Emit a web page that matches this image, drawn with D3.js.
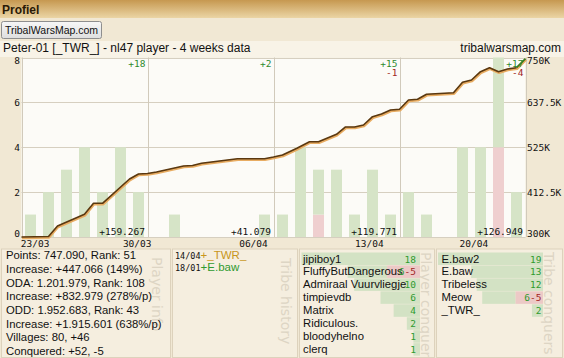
<!DOCTYPE html>
<html><head><meta charset="utf-8">
<script src="https://cdn.jsdelivr.net/npm/d3@7"></script>
<style>
html,body{margin:0;padding:0;background:#f1e8d4;}
svg{display:block;}
</style></head>
<body>
<script>
// ---------- data ----------
const conquerGains  = [1,2,3,4,2,4,2, 0,1,0,0,0,0,1, 1,4,2,3,1,3,1, 2,1,0,4,4,4,2];
const conquerLosses = [0,0,0,0,0,0,0, 0,0,0,0,0,0,0, 0,0,1,0,0,0,0, 0,0,0,0,0,4,0];
const lineDays   = [0,1.5,2,3.5,4,4.5,6,6.5,7,7.5,8,9,9.5,10,11,12,13.5,14,14.5,15.3,16,16.5,17.5,18,18.5,19,19.5,20,20.5,21,21.5,22,22.5,24,24.5,25,25.5,26,26.5,27,27.5,28];
const linePoints = [300024,301300,327600,356900,384500,384500,445400,458000,459291,463000,468000,478000,479300,484800,490500,496300,496300,500370,505600,522400,538900,538900,557500,575800,575800,580800,601600,608400,618500,620141,643500,645200,657700,661800,687800,693600,714400,724400,714400,721200,724400,747090];
const weekGain   = [18,2,15,17];
const weekLoss   = [0,0,1,4];
const weekPoints = [159267,41079,119771,126949];
const dateLabels = ["23/03","30/03","06/04","13/04","20/04"];
const dateLabelDays = [0.73,6.4,12.86,19.3,25.1];
const leftTicks  = [0,2,4,6,8];
const rightTicks = [300000,412500,525000,637500,750000];
const playerInfo = ["Points: 747.090, Rank: 51","Increase: +447.066 (149%)","ODA: 1.201.979, Rank: 108","Increase: +832.979 (278%/p)","ODD: 1.952.683, Rank: 43","Increase: +1.915.601 (638%/p)","Villages: 80, +46","Conquered: +52, -5"];
const historyDates = ["14/04","18/01"];
const historyTribes = ["+_TWR_","+E.baw"];
const historyKinds = ["join","new"];
const playerNames = ["jipiboy1","FluffyButDangerous","Admiraal Vuurvliegje","timpievdb","Matrix","Ridiculous.","bloodyhelno","clerq"];
const playerGains = [18,6,10,6,4,2,1,1];
const playerLosses = [0,5,0,0,0,0,0,0];
const tribeNames = ["E.baw2","E.baw","Tribeless","Meow","_TWR_"];
const tribeGains = [19,13,12,6,2];
const tribeLosses = [0,0,0,5,0];

// ---------- drawing ----------
const W = 564, H = 358;
const svg = d3.select("body").append("svg").attr("width",W).attr("height",H);
const sans = "'Liberation Sans', Arial, sans-serif";
const mono = "'DejaVu Sans Mono', monospace";
const defs = svg.append("defs");
const hg = defs.append("linearGradient").attr("id","hdr").attr("x1",0).attr("y1",0).attr("x2",0).attr("y2",1);
hg.append("stop").attr("offset","0%").attr("stop-color","#c69850");
hg.append("stop").attr("offset","100%").attr("stop-color","#ebd5a5");
const bg = defs.append("linearGradient").attr("id","btn").attr("x1",0).attr("y1",0).attr("x2",0).attr("y2",1);
bg.append("stop").attr("offset","0%").attr("stop-color","#f7f7f7");
bg.append("stop").attr("offset","100%").attr("stop-color","#dedede");

svg.append("rect").attr("width",W).attr("height",H).attr("fill","#f1e8d4");
svg.append("rect").attr("width",W).attr("height",18).attr("fill","url(#hdr)");
svg.append("text").attr("x",2).attr("y",13.5).attr("font-family",sans).attr("font-weight","bold")
  .attr("font-size",12).attr("fill","#2a1a06").text("Profiel");

svg.append("rect").attr("x",1.5).attr("y",21.5).attr("width",100).attr("height",17).attr("rx",2)
  .attr("fill","url(#btn)").attr("stroke","#8e8e8e");
svg.append("text").attr("x",51.5).attr("y",34).attr("text-anchor","middle").attr("font-family",sans)
  .attr("font-size",10.5).attr("fill","#111").text("TribalWarsMap.com");

svg.append("rect").attr("x",0).attr("y",41).attr("width",W).attr("height",16).attr("fill","#f8f3e7");
svg.append("text").attr("x",3).attr("y",52).attr("font-family",sans).attr("font-size",12).attr("fill","#111")
  .text("Peter-01 [_TWR_] - nl47 player - 4 weeks data");
svg.append("text").attr("x",561).attr("y",52).attr("text-anchor","end").attr("font-family",sans).attr("font-size",12).attr("fill","#111")
  .text("tribalwarsmap.com");

// scales
const x0 = 21.5, x1 = 525.5, yTop = 57.5, yBot = 237;
const x = d3.scaleLinear().domain([0,28]).range([x0,x1]);
const yC = d3.scaleLinear().domain([0,8]).range([yBot,yTop]);
const yP = d3.scaleLinear().domain([300000,750000]).range([yBot,yTop]);

const plot = svg.append("g");
plot.append("rect").attr("x",x0).attr("y",yTop).attr("width",x1-x0).attr("height",yBot-yTop).attr("fill","#fcfbf7");

// grid
plot.selectAll("line.h").data(leftTicks).join("line").attr("class","h")
  .attr("x1",x0).attr("x2",x1).attr("y1",d=>Math.round(yC(d))+0.5).attr("y2",d=>Math.round(yC(d))+0.5)
  .attr("stroke","#d6cfc0");
plot.selectAll("line.v").data([0,7,14,21,28]).join("line").attr("class","v")
  .attr("x1",d=>Math.round(x(d))+0.5).attr("x2",d=>Math.round(x(d))+0.5).attr("y1",yTop).attr("y2",yBot)
  .attr("stroke","#d1cabb");

// bars
const dayIdx = d3.range(conquerGains.length);
const bw = 11;
plot.selectAll("rect.loss").data(dayIdx.filter(i=>conquerLosses[i]>0)).join("rect").attr("class","loss")
  .attr("x",i=>x(i)+(x(1)-x(0)-bw)/2).attr("width",bw)
  .attr("y",i=>yC(conquerLosses[i])).attr("height",i=>yC(0)-yC(conquerLosses[i]))
  .attr("fill","#efcfcf");
plot.selectAll("rect.gain").data(dayIdx.filter(i=>conquerGains[i]>0)).join("rect").attr("class","gain")
  .attr("x",i=>x(i)+(x(1)-x(0)-bw)/2).attr("width",bw)
  .attr("y",i=>yC(conquerGains[i]+conquerLosses[i])).attr("height",i=>yC(conquerLosses[i])-yC(conquerGains[i]+conquerLosses[i]))
  .attr("fill","#d6e4c7");

// line
const pts = lineDays.map((d,i)=>({d, v: linePoints[i]}));
const line = d3.line().x(p=>x(p.d)).y(p=>yP(p.v));
plot.append("path").datum(pts).attr("d",line).attr("fill","none").attr("stroke","#e8ac62")
  .attr("stroke-width",2.6).attr("transform","translate(0.5,1)").attr("stroke-linejoin","round");
plot.append("path").datum(pts.slice(0,-1)).attr("d",line).attr("fill","none").attr("stroke","#5a3810")
  .attr("stroke-width",1.6).attr("stroke-linejoin","round");
plot.append("path").datum(pts.slice(-2)).attr("d",line).attr("fill","none").attr("stroke","#3f7a1e")
  .attr("stroke-width",1.8);

// week labels
const fmtDot = v => "+" + d3.format(",")(v).replace(/,/g,".");
const weeks = d3.range(4);
plot.selectAll("text.wg").data(weeks).join("text").attr("class","wg")
  .attr("x",w=>x(7*(w+1))-2).attr("y",66.5).attr("text-anchor","end")
  .attr("font-family",mono).attr("font-size",9.5).attr("fill","#2f8a2f").text(w=>"+"+weekGain[w]);
plot.selectAll("text.wl").data(weeks.filter(w=>weekLoss[w]>0)).join("text").attr("class","wl")
  .attr("x",w=>x(7*(w+1))-2).attr("y",75.5).attr("text-anchor","end")
  .attr("font-family",mono).attr("font-size",9.5).attr("fill","#a02424").text(w=>"-"+weekLoss[w]);
plot.selectAll("text.wp").data(weeks).join("text").attr("class","wp")
  .attr("x",w=>x(7*(w+1))-2.5).attr("y",234.5).attr("text-anchor","end")
  .attr("font-family",mono).attr("font-size",9.5).attr("fill","#111").text(w=>fmtDot(weekPoints[w]));

// axes
function placeEnd(sel, scale, lo, hi){
  sel.selectAll(".tick text").attr("dy",null).attr("y",null)
    .each(function(d){
      const t = d3.select(this);
      if (d===hi) t.attr("dy","0.71em").attr("transform","translate(0,"+(yTop-scale(d)-0.5)+")");
      else if (d===lo) t.attr("dy","0em").attr("transform","translate(0,-0.5)");
      else t.attr("dy","0.35em");
    });
}
const la = svg.append("g").attr("transform","translate(20,0)")
  .call(d3.axisLeft(yC).tickValues(leftTicks).tickSize(0).tickPadding(0).tickFormat(d3.format("d")));
la.select(".domain").remove();
la.selectAll("text").attr("font-family",mono).attr("font-size",9.5).attr("fill","#111");
placeEnd(la, yC, 0, 8);

const ra = svg.append("g").attr("transform","translate(527,0)")
  .call(d3.axisRight(yP).tickValues(rightTicks).tickSize(0).tickPadding(0)
    .tickFormat(v => (v/1000) + "K"));
ra.select(".domain").remove();
ra.selectAll("text").attr("font-family",mono).attr("font-size",9.5).attr("fill","#111");
placeEnd(ra, yP, 300000, 750000);

const ba = svg.append("g").attr("transform","translate(0,240)")
  .call(d3.axisBottom(x).tickValues(dateLabelDays).tickSize(0).tickPadding(0)
    .tickFormat((d,i)=>dateLabels[i]));
ba.select(".domain").remove();
ba.selectAll("text").attr("font-family",mono).attr("font-size",9.5).attr("fill","#111").attr("dy","0.71em");

// ---------- bottom panels ----------
const pY0 = 249, pY1 = 357.5;
const panels = [[1.5,170.5],[172.5,297.5],[299.5,434.5],[436.5,562.5]];
svg.selectAll("rect.panel").data(panels).join("rect").attr("class","panel")
  .attr("x",d=>d[0]).attr("y",pY0).attr("width",d=>d[1]-d[0]).attr("height",pY1-pY0)
  .attr("fill","#f5eedf").attr("stroke","#ddd2bc");

// watermarks
const wm = [["Player info",157,257],["Tribe history",286,258],["Player conquers",426,252],["Tribe conquers",549,252]];
svg.selectAll("text.wm").data(wm).join("text").attr("class","wm")
  .attr("transform",d=>`translate(${d[1]-5},${d[2]}) rotate(90)`)
  .attr("font-family","'DejaVu Sans', sans-serif").attr("font-size",14).attr("fill","#ddd5c4").text(d=>d[0]);

// player info
svg.selectAll("text.pi").data(playerInfo).join("text").attr("class","pi")
  .attr("x",6).attr("y",(d,i)=>259.3+i*13.67).attr("font-family",sans).attr("font-size",11.3).attr("fill","#111").text(d=>d);

// tribe history
const hIdx = d3.range(historyDates.length);
const ht = svg.selectAll("text.th").data(hIdx).join("text").attr("class","th")
  .attr("x",175).attr("y",i=>259+i*11.5);
ht.append("tspan").attr("font-family",mono).attr("font-size",8.5).attr("fill","#111").text(i=>historyDates[i]);
ht.append("tspan").attr("font-family",sans).attr("font-size",11.5)
  .attr("fill",i=>historyKinds[i]==="join"?"#c8961c":"#2f9a2f").text(i=>historyTribes[i]);

// conquer lists
function conquerList(names, gains, losses, xL, xR, textX, numX, maxV){
  const idx = d3.range(names.length);
  const sc = d3.scaleLinear().domain([0,maxV]).range([0,xR-xL]);
  const g = svg.append("g");
  const rowY = i => 252.5 + i*12.95;
  g.selectAll("rect.rl").data(idx.filter(i=>losses[i]>0)).join("rect")
    .attr("x",i=>xR-sc(losses[i])).attr("y",rowY).attr("width",i=>sc(losses[i])).attr("height",12.5).attr("fill","#ecc9c6");
  g.selectAll("rect.rg").data(idx).join("rect")
    .attr("x",i=>xR-sc(losses[i])-sc(gains[i])).attr("y",rowY).attr("width",i=>sc(gains[i])).attr("height",12.5).attr("fill","#d3e2c4");
  g.selectAll("text.nm").data(idx).join("text").attr("x",textX).attr("y",i=>rowY(i)+10)
    .attr("font-family",sans).attr("font-size",11.3).attr("fill","#111").text(i=>names[i]);
  const nt = g.selectAll("text.nv").data(idx).join("text").attr("x",numX).attr("y",i=>rowY(i)+10)
    .attr("text-anchor","end").attr("font-family",mono).attr("font-size",9.5);
  nt.append("tspan").attr("fill","#2f9a2f").text(i=>gains[i]);
  nt.filter(i=>losses[i]>0).append("tspan").attr("fill","#a02424").text(i=>"-"+losses[i]);
}
conquerList(playerNames, playerGains, playerLosses, 301.5, 420, 303, 416, d3.max(playerGains.map((g,i)=>g+playerLosses[i])));
conquerList(tribeNames, tribeGains, tribeLosses, 438, 543, 441.5, 541.5, d3.max(tribeGains.map((g,i)=>g+tribeLosses[i])));
</script>
</body></html>
